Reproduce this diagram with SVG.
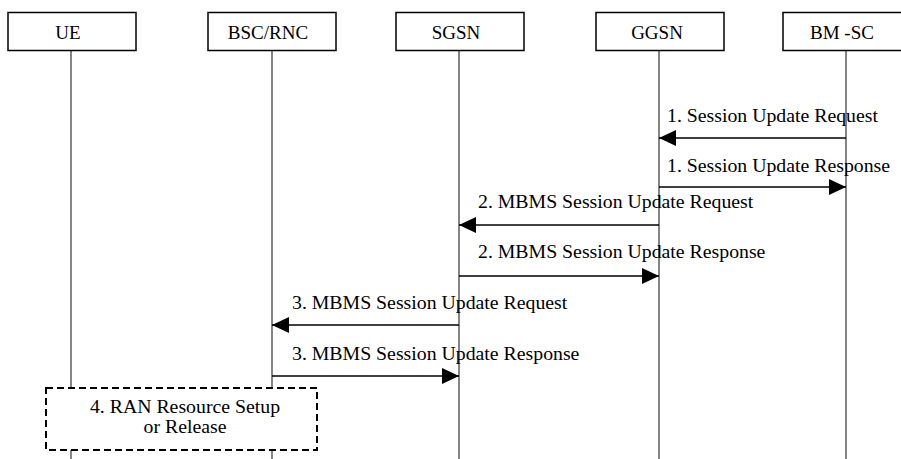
<svg xmlns="http://www.w3.org/2000/svg" width="901" height="459" viewBox="0 0 901 459">
<style>
.box{fill:#fff;stroke:#000;stroke-width:1.5}
.life{stroke:#333;stroke-width:1.2;fill:none}
.msg{stroke:#000;stroke-width:1.6;fill:none}
.hd{font-size:19px;fill:#000;text-anchor:middle}
.lb{font-size:19.8px;fill:#000}
.ct{font-size:19.8px;fill:#000;text-anchor:middle}
.dash{fill:#fff;stroke:#000;stroke-width:2;stroke-dasharray:7 4}
</style>
<defs>
<marker id="ah" viewBox="0 0 17 16" refX="17" refY="8" markerWidth="17" markerHeight="16" markerUnits="userSpaceOnUse" orient="auto">
<path d="M0,0 L17,8 L0,16 Z" fill="#000"/>
</marker>
</defs>
<rect width="901" height="459" fill="#fff"/>
<g id="lifelines">
<line class="life" x1="71" y1="51" x2="71" y2="459"/>
<line class="life" x1="272" y1="51" x2="272" y2="459"/>
<line class="life" x1="459" y1="51" x2="459" y2="459"/>
<line class="life" x1="659" y1="51" x2="659" y2="459"/>
<line class="life" x1="846" y1="51" x2="846" y2="459"/>
</g>
<g font-family="'Liberation Serif', 'DejaVu Serif', serif">
<g id="UE"><rect class="box" x="8" y="12.5" width="128" height="38"/><text class="hd" x="68" y="39">UE</text></g>
<g id="BSC_RNC"><rect class="box" x="208" y="12.5" width="128" height="38"/><text class="hd" x="268" y="39">BSC/RNC</text></g>
<g id="SGSN"><rect class="box" x="396" y="12.5" width="128" height="38"/><text class="hd" x="456" y="39">SGSN</text></g>
<g id="GGSN"><rect class="box" x="596" y="12.5" width="128" height="38"/><text class="hd" x="657" y="39">GGSN</text></g>
<g id="BM_SC"><rect class="box" x="783" y="12.5" width="128" height="38"/><text class="hd" x="842" y="39">BM -SC</text></g>
<g id="connectors">
<line class="msg" x1="846" y1="138" x2="659" y2="138" marker-end="url(#ah)"/>
<text class="lb" x="667" y="122">1. Session Update Request</text>
<line class="msg" x1="659" y1="187" x2="846" y2="187" marker-end="url(#ah)"/>
<text class="lb" x="667" y="172">1. Session Update Response</text>
<line class="msg" x1="659" y1="225" x2="459" y2="225" marker-end="url(#ah)"/>
<text class="lb" x="478" y="208">2. MBMS Session Update Request</text>
<line class="msg" x1="459" y1="276" x2="659" y2="276" marker-end="url(#ah)"/>
<text class="lb" x="478" y="258">2. MBMS Session Update Response</text>
<line class="msg" x1="459" y1="325" x2="272" y2="325" marker-end="url(#ah)"/>
<text class="lb" x="292" y="309">3. MBMS Session Update Request</text>
<line class="msg" x1="272" y1="376" x2="459" y2="376" marker-end="url(#ah)"/>
<text class="lb" x="292" y="360">3. MBMS Session Update Response</text>
</g>
<g id="RAN">
<rect class="dash" x="46" y="388" width="271" height="62"/>
<text class="ct" x="185" y="413">4. RAN Resource Setup</text>
<text class="ct" x="185" y="433">or Release</text>
</g>
</g>
</svg>
